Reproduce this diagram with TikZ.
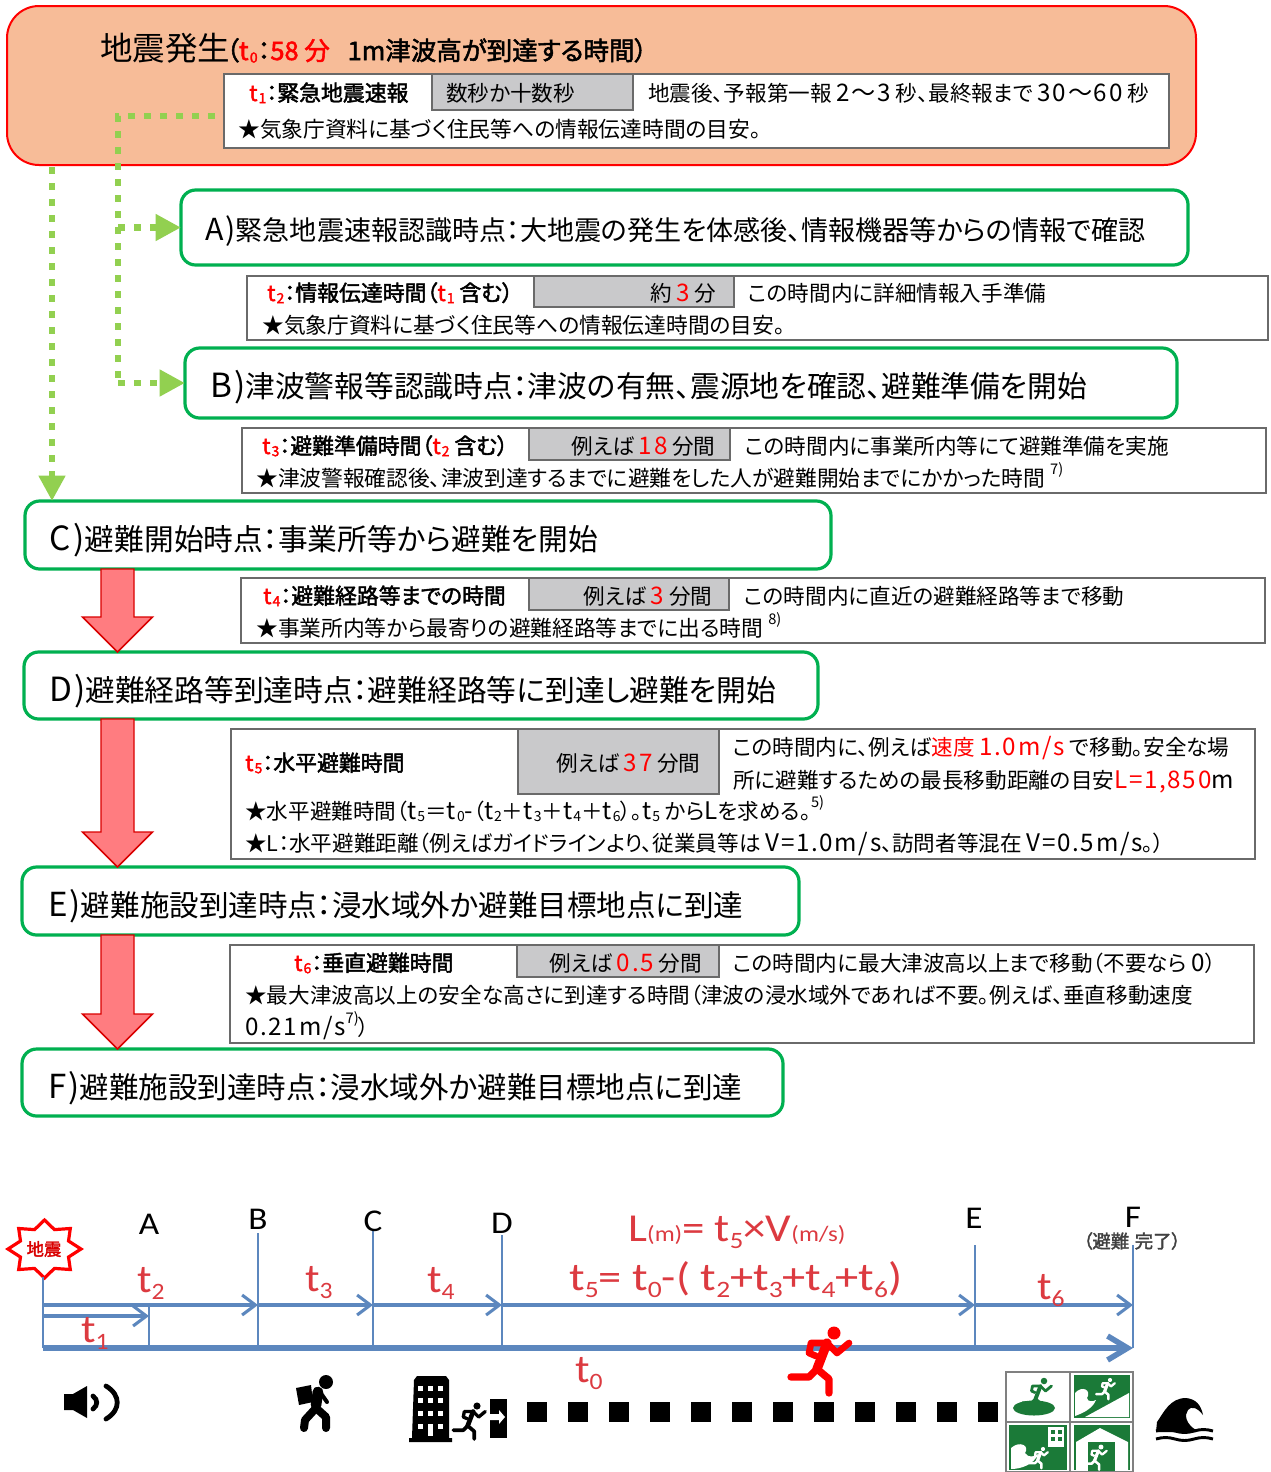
\documentclass[tikz,border=0pt]{standalone}
\usepackage{fontspec}
\setmainfont{Noto Sans CJK JP}[RawFeature=+palt]
\newfontfamily\carlito{Carlito}
\newfontfamily\latf{Noto Sans CJK JP}[Scale=1.12,LetterSpace=7]
\newfontfamily\medf{Noto Sans CJK JP}[RawFeature=+palt,FakeBold=2]
\usetikzlibrary{arrows.meta,calc}
\definecolor{topfill}{HTML}{F7BC98}
\definecolor{stagegreen}{HTML}{00B050}
\definecolor{dotgreen}{HTML}{92D050}
\definecolor{cellgray}{HTML}{C9C9CB}
\definecolor{tabline}{HTML}{6A6A6A}
\definecolor{arrowred}{HTML}{FF7C80}
\definecolor{lineblue}{HTML}{5C87BE}
\definecolor{labelred}{HTML}{DC3A40}
\definecolor{signgreen}{HTML}{1B7A38}
\newcommand\La[1]{{\latf #1}}
\newcommand\lowsub[1]{\hspace{.05em}\raisebox{-0.1em}{\fontsize{10.5}{10.5}\selectfont #1}}
\newcommand\Rt[1]{\textcolor{red}{t\lowsub{#1}}}
\newcommand\Rd[1]{\textcolor{red}{#1}}
\newcommand\Rn[1]{\textcolor{red}{\La{#1}}}
\newcommand\upnote[1]{\raisebox{.55em}{\fontsize{11}{11}\selectfont #1}}
\newcommand\Tsub[1]{t\raisebox{-0.2em}{\fontsize{16}{16}\selectfont #1}}
\newcommand\Tx[5]{\node[anchor=base west,inner sep=0pt,#4] (#1) at (#2,#3) {#5};}
\newcommand\Bx[8]{\node[anchor=north west,outer sep=0pt,#6,inner ysep=0pt,inner xsep=#7*0.75pt,
  minimum width={(#4-#2)*0.75pt},minimum height={(#5-#3)*0.75pt},
  text width={(#4-#2-2*#7)*0.75pt}] (#1) at (#2,#3) {\noindent\rlap{#8}};}
\newcommand\Bare[6]{\node[anchor=north west,outer sep=0pt,#6,inner sep=0pt,
  minimum width={(#4-#2)*0.75pt},minimum height={(#5-#3)*0.75pt}] (#1) at (#2,#3) {};}
\newcommand\RedArr[4]{\path[redarrow]
  ([shift={(-16.5,0)}]#1 |- #2.south) -- ([shift={(16.5,0)}]#1 |- #2.south)
  -- ([shift={(16.5,-#4)}]#1 |- #3.north) -- ([shift={(35,-#4)}]#1 |- #3.north)
  -- (#1 |- #3.north) -- ([shift={(-35,-#4)}]#1 |- #3.north)
  -- ([shift={(-16.5,-#4)}]#1 |- #3.north) -- cycle;}
\newcommand\lwf{1}
\tikzset{
 x=0.75pt,y=-0.75pt,
 topbox/.style={draw=red,fill=topfill,line width=1.5pt,rounded corners=24pt},
 stagebox/.style={draw=stagegreen,fill=white,line width=2.4pt,rounded corners=11pt,text height=26pt,text depth=2.2pt},
 stageA/.style={stagebox,font=\fontsize{20.3}{24}\selectfont,text height=22pt,text depth=2.6pt},
 stageB/.style={stagebox,font=\fontsize{22.3}{26}\selectfont,text height=24pt,text depth=2.5pt},
 stageC/.style={stagebox,font=\fontsize{22.3}{26}\selectfont},
 stageD/.style={stagebox,font=\fontsize{22.3}{26}\selectfont},
 stageE/.style={stagebox,font=\fontsize{22.15}{26}\selectfont},
 tabbox/.style={draw=tabline,fill=white,line width=1pt},
 graycell/.style={draw=tabline,fill=cellgray,line width=1pt},
 cell/.style={font=\fontsize{16.2}{19}\selectfont},
 cellb/.style={font=\fontsize{16.4}{19}\medf},
 starline/.style={font=\fontsize{16.3}{19}\selectfont},
 greendot/.style={draw=dotgreen,line width=5.2pt,dash pattern=on 5.2pt off 6.8pt},
 greentip/.style={-{Triangle[length=19pt,width=19pt]}},
 redarrow/.style={draw=red!85!black,fill=arrowred,line width=1.1pt,line join=miter},
 tl/.style={draw=lineblue,line width=1.6pt},
 tlarrow/.style={draw=lineblue,line width=2.3pt,-{Straight Barb[length=10pt,width=15pt,line width=2.3pt]}},
 tlthick/.style={draw=lineblue,line width=4.2pt,-{Straight Barb[length=15pt,width=18pt,line width=4.2pt]}},
 axislabel/.style={font=\carlito\fontsize{22}{26}\selectfont},
 redlabel/.style={text=labelred,font=\carlito\fontsize{27}{30}\selectfont},
 signtile/.style={draw=gray,line width=1.6pt},
 stick/.style={line width=#1,line cap=round,line join=round},
 runner/.pic={
  \fill[#1] circle (6.5);
  \draw[draw=#1,line width=5pt*\lwf,line cap=round,line join=round,fill=none] (-18,23) -- (-25,20) -- (-23,10) -- (-7,10) -- (3,20) -- (15,10);
  \draw[draw=#1,line width=7pt*\lwf,line cap=round,line join=round,fill=none] (-7,10) -- (-17,36);
  \draw[draw=#1,line width=5.5pt*\lwf,line cap=round,line join=round,fill=none] (-17,36) -- (-5,46) -- (-5,60);
  \draw[draw=#1,line width=5.5pt*\lwf,line cap=round,line join=round,fill=none] (-17,36) -- (-25,44) -- (-43,44);
 },
}
\begin{document}
\begin{tikzpicture}
\useasboundingbox (0,0) rectangle (1271,1472);
\fill[white] (0,0) rectangle (1271,1472);

% ---- top box
\Bare{top}{7}{6}{1196}{165}{topbox}
\Tx{title}{100}{60}{font=\fontsize{24.4}{28}\selectfont}{地震発生}
\Tx{titleb}{226}{60}{font=\fontsize{19.1}{22}\medf}{（\Rt{0}：\Rd{58 分}\hspace{.7em}1m津波高が到達する時間）}
\Bare{tabA}{224}{74}{1169}{148}{tabbox}
\Bare{cellA}{432}{74}{633}{110}{graycell}
\Tx{tA1}{249}{101}{cellb}{\Rt{1}：緊急地震速報}
\Tx{tA2}{446}{101}{cell}{数秒か十数秒}
\Tx{tA3}{648}{101}{cell}{地震後、予報第一報 \La{2〜3} 秒、最終報まで \La{30〜60} 秒}
\Tx{tA4}{238}{137}{starline}{★気象庁資料に基づく住民等への情報伝達時間の目安。}

% ---- stage boxes
\Bx{boxA}{181}{190}{1188}{265}{stageA}{24}{\La{A)}緊急地震速報認識時点：大地震の発生を体感後、情報機器等からの情報で確認}
\Bx{boxB}{185}{348}{1177}{418}{stageB}{25}{\La{B)}津波警報等認識時点：津波の有無、震源地を確認、避難準備を開始}
\Bx{boxC}{25}{501}{831}{569}{stageC}{25}{\La{C)}避難開始時点：事業所等から避難を開始}
\Bx{boxD}{24}{652}{818}{719}{stageD}{25}{\La{D)}避難経路等到達時点：避難経路等に到達し避難を開始}
\Bx{boxE}{22}{867}{799}{935}{stageE}{26}{\La{E)}避難施設到達時点：浸水域外か避難目標地点に到達}
\Bx{boxF}{22}{1049}{783}{1116}{stageE}{26}{\La{F)}避難施設到達時点：浸水域外か避難目標地点に到達}

% ---- t2 table
\Bare{tabB}{247}{276}{1268}{340}{tabbox}
\Bare{cellB}{534}{276}{734}{307}{graycell}
\Tx{tB1}{267}{301}{cellb}{\Rt{2}：情報伝達時間（\Rt{1} 含む）}
\Tx{tB2}{650}{301}{cell}{約 \Rn{3} 分}
\Tx{tB3}{748}{301}{cell}{この時間内に詳細情報入手準備}
\Tx{tB4}{262}{333}{starline}{★気象庁資料に基づく住民等への情報伝達時間の目安。}
% ---- t3 table
\Bare{tabC}{242}{428}{1266}{493}{tabbox}
\Bare{cellC}{529}{428}{730}{460}{graycell}
\Tx{tC1}{262}{454}{cellb}{\Rt{3}：避難準備時間（\Rt{2} 含む）}
\Tx{tC2}{571}{454}{cell}{例えば \Rn{18} 分間}
\Tx{tC3}{745}{454}{cell}{この時間内に事業所内等にて避難準備を実施}
\Tx{tC4}{256}{486}{starline}{★津波警報確認後、津波到達するまでに避難をした人が避難開始までにかかった時間 \upnote{7)}}
% ---- t4 table
\Bare{tabD}{241}{578}{1265}{643}{tabbox}
\Bare{cellD}{529}{578}{729}{610}{graycell}
\Tx{tD1}{263}{604}{cellb}{\Rt{4}：避難経路等までの時間}
\Tx{tD2}{583}{604}{cell}{例えば \Rn{3} 分間}
\Tx{tD3}{744}{604}{cell}{この時間内に直近の避難経路等まで移動}
\Tx{tD4}{256}{636}{starline}{★事業所内等から最寄りの避難経路等までに出る時間 \upnote{8)}}
% ---- t5 table
\Bare{tabE}{231}{729}{1255}{859}{tabbox}
\Bare{cellE}{518}{729}{719}{794}{graycell}
\Tx{tE1}{245}{771}{cellb}{\Rt{5}：水平避難時間}
\Tx{tE2}{556}{771}{cell}{例えば \Rn{37} 分間}
\Tx{tE3}{733}{755}{cell}{この時間内に、例えば\Rd{速度 \La{1.0m/s}} で移動。安全な場}
\Tx{tE4}{733}{788}{cell}{所に避難するための最長移動距離の目安\Rn{L=1,850}\La{m}}
\Tx{tE5}{245}{819}{cell}{★水平避難時間（\La{t}\lowsub{5}＝\La{t}\lowsub{0}\La{-}（\La{t}\lowsub{2}＋\La{t}\lowsub{3}＋\La{t}\lowsub{4}＋\La{t}\lowsub{6}）。\La{t}\lowsub{5} から\La{L}を求める。\upnote{5)}}
\Tx{tE6}{245}{851}{cell}{★L：水平避難距離（例えばガイドラインより、従業員等は \La{V=1.0m/s}、訪問者等混在 \La{V=0.5m/s}。）}
% ---- t6 table
\Bare{tabF}{230}{945}{1254}{1043}{tabbox}
\Bare{cellF}{517}{945}{719}{977}{graycell}
\Tx{tF1}{294}{971}{cellb}{\Rt{6}：垂直避難時間}
\Tx{tF2}{549}{971}{cell}{例えば \Rn{0.5} 分間}
\Tx{tF3}{733}{971}{cell}{この時間内に最大津波高以上まで移動（不要なら \La{0}）}
\Tx{tF4}{245}{1003}{cell}{★最大津波高以上の安全な高さに到達する時間（津波の浸水域外であれば不要。例えば、垂直移動速度}
\Tx{tF5}{245}{1035}{cell}{\La{0.21m/s}\upnote{7)}）}

% ---- dotted connectors
\coordinate (gs) at (215,116);
\coordinate (gc) at (118,116);
\coordinate (gl) at (52,167);
\draw[greendot] (gs) -- (gc) -- (gc |- boxB.west);
\draw[greendot,greentip] (gc |- boxB.west) -- (boxB.west);
\draw[greendot,greentip] (gc |- boxA.west) -- (boxA.west);
\draw[greendot,greentip] (gl) -- (gl |- boxC.north);

% ---- red arrows
\coordinate (ra) at (117.5,600);
\RedArr{ra}{boxC}{boxD}{35}
\RedArr{ra}{boxD}{boxE}{35}
\RedArr{ra}{boxE}{boxF}{35}

% ---- timeline
\draw[draw=red,line width=2.4pt,fill=white,line join=miter]
  plot[samples at={0,...,15}] ({44.5+(mod(\x,2)==0 ? 36.5 : 26)*cos(\x*22.5)},{1249+(mod(\x,2)==0 ? 29 : 21)*sin(\x*22.5)}) -- cycle;
\node[text=red!85!black,inner sep=0pt,font=\fontsize{13}{15}\medf,minimum height=42pt] (quake) at (44,1249) {地震};
\coordinate (o) at (43,1348);
\coordinate (pA) at (149,1348);
\coordinate (pB) at (258,1348);
\coordinate (pC) at (373,1348);
\coordinate (pD) at (502,1348);
\coordinate (pE) at (975,1348);
\coordinate (pF) at (1133,1348);
\coordinate (uB) at (258,1233);
\coordinate (uC) at (373,1230);
\coordinate (uD) at (502,1235);
\coordinate (uE) at (975,1245);
\coordinate (uF) at (1133,1245);
\coordinate (o1) at (43,1305);
\coordinate (o2) at (43,1316);
\draw[tl] (quake.south -| o) -- (o);
\draw[tl] (149,1305) -- (pA);
\draw[tl] (uB) -- (pB);
\draw[tl] (uC) -- (pC);
\draw[tl] (uD) -- (pD);
\draw[tl] (uE) -- (pE);
\draw[tl] (uF) -- (pF);
\draw[tlarrow] (o2) -- (o2 -| pA);
\draw[tlarrow] (o1) -- (o1 -| pB);
\draw[tlarrow] (o1 -| pB) -- (o1 -| pC);
\draw[tlarrow] (o1 -| pC) -- (o1 -| pD);
\draw[tlarrow] (o1 -| pD) -- (o1 -| pE);
\draw[tlarrow] (o1 -| pE) -- (o1 -| pF);
\draw[tlthick] (o) -- (pF);

\node[axislabel] (lA) at (149,1224) {\scalebox{1.2}[1.08]{A}};
\node[axislabel] (lB) at (258,1219) {\scalebox{1.2}[1.08]{B}};
\node[axislabel] (lC) at (373,1221) {\scalebox{1.2}[1.08]{C}};
\node[axislabel] (lD) at (502,1223) {\scalebox{1.2}[1.08]{D}};
\node[axislabel] (lE) at (974,1218) {\scalebox{1.2}[1.08]{E}};
\node[axislabel] (lF) at (1133,1217) {\scalebox{1.2}[1.08]{F}};
\node[font=\fontsize{13.8}{16}\medf,text=black!75] (lDone) at (1132,1241) {（避難\hspace{.3em}完了）};

\Tx{v2}{137}{1292}{redlabel}{\scalebox{1.2}[1.1]{\Tsub{2}}}
\Tx{v3}{305}{1291}{redlabel}{\scalebox{1.2}[1.1]{\Tsub{3}}}
\Tx{v4}{427}{1292}{redlabel}{\scalebox{1.2}[1.1]{\Tsub{4}}}
\Tx{v1}{81}{1342}{redlabel}{\scalebox{1.2}[1.1]{\Tsub{1}}}
\Tx{v6}{1037}{1299}{redlabel}{\scalebox{1.2}[1.1]{\Tsub{6}}}
\Tx{v0}{575}{1382}{redlabel}{\scalebox{1.2}[1.1]{\Tsub{0}}}
\Tx{vEq}{569}{1290}{redlabel}{\scalebox{1.29}[1.1]{\Tsub{5}= \Tsub{0}-( \Tsub{2}+\Tsub{3}+\Tsub{4}+\Tsub{6})}}
\Tx{vL}{628}{1241}{redlabel}{\scalebox{1.25}[1.1]{L{\fontsize{15}{15}\selectfont(m)}= \Tsub{5}×V{\fontsize{15}{15}\selectfont(m/s)}}}

% ---- speaker icon
\fill (64,1394) -- (73,1394) -- (87,1386) -- (87,1418) -- (73,1410) -- (64,1410) -- cycle;
\draw[line width=3.6pt,line cap=round] (93,1396) .. controls (98,1400) and (98,1405) .. (93,1409);
\draw[line width=3.6pt,line cap=round] (106,1386) .. controls (121,1395) and (121,1410) .. (106,1419);

% ---- hiker icon
\fill (326,1382) circle (7);
\fill (296,1388) -- (311,1385) -- (313,1402) -- (299,1405) -- cycle;
\draw[stick=6pt] (317,1391) -- (316,1408) -- (305,1420) -- (304,1428);
\draw[stick=6pt] (316,1408) -- (326,1417) -- (326,1428);
\draw[stick=3pt] (320,1392) -- (327,1402);
\draw[stick=8pt] (318,1392) -- (316,1405);

% ---- building and exit icon
\fill (414,1380) -- (417,1376) -- (446,1376) -- (449,1380) -- (449,1438) -- (452,1438) -- (452,1442) -- (409,1442) -- (409,1438) -- (412,1438) -- cycle;
\foreach \wx in {418,428,438}{\foreach \wy in {1386,1398,1411}{\fill[white] (\wx,\wy) rectangle +(5,5);}}
\foreach \wx in {418,438}{\fill[white] (\wx,1424) rectangle +(5,5);}
\fill[white] (428,1424) rectangle +(5,12);
\renewcommand\lwf{.5}
\pic[scale=.55] at (477,1406) {runner=black};
\fill (490,1399) rectangle (507,1438);
\fill[white] (490,1414) -- (499,1414) -- (499,1410) -- (505,1417) -- (499,1424) -- (499,1420) -- (490,1420) -- cycle;

% ---- dotted run of squares
\foreach \sx in {527,568,609,650,691,732,773,814,855,896,937,978}{\fill (\sx,1402) rectangle +(20,20);}

% ---- red runner
\renewcommand\lwf{1}
\pic at (834,1333) {runner=red};

% ---- signs
\fill[white] (1006,1372) rectangle (1133,1472);
% tile 1
\fill[signgreen] (1034,1408) ellipse (21 and 7.5);
\renewcommand\lwf{.42}
\pic[scale=.5] at (1044,1381) {runner=signgreen};
% tile 2
\renewcommand\lwf{.34}
\fill[signgreen] (1074,1375) rectangle (1130,1418);
\fill[white] (1085,1417) -- (1129,1393) -- (1129,1417) -- cycle;
\fill[white] (1075,1393) .. controls (1082,1385) and (1092,1390) .. (1087,1398) .. controls (1088,1402) and (1092,1402) .. (1096,1400) .. controls (1092,1410) and (1080,1414) .. (1075,1416) -- cycle;
\pic[scale=.32] at (1110,1380) {runner=white};
% tile 3
\fill[signgreen] (1009,1425) rectangle (1067,1470);
\fill[white] (1011,1448) .. controls (1020,1440) and (1030,1446) .. (1025,1453) .. controls (1028,1458) and (1034,1457) .. (1038,1454) .. controls (1034,1465) and (1020,1469) .. (1011,1469) -- cycle;
\fill[white] (1048,1427) rectangle (1064,1447);
\foreach \wx in {1051,1058}{\foreach \wy in {1430,1437}{\fill[signgreen] (\wx,\wy) rectangle +(4,4);}}
\pic[scale=.32] at (1043,1449) {runner=white};
% tile 4
\fill[signgreen] (1074,1425) rectangle (1130,1470);
\fill[white] (1076,1472) -- (1076,1442) -- (1100,1428) -- (1128,1442) -- (1128,1472) -- cycle;
\fill[signgreen] (1088,1442) rectangle (1115,1472);
\pic[scale=.38] at (1101,1447) {runner=white};
\draw[signtile] (1006,1372) rectangle (1133,1472);
\draw[signtile] (1070,1372) -- (1070,1472);
\draw[signtile] (1006,1422) -- (1133,1422);

% ---- wave
\fill (1156,1432) -- (1157,1422) .. controls (1164,1412) and (1170,1398) .. (1186,1398) .. controls (1196,1399) and (1201,1405) .. (1203,1415)
  .. controls (1197,1407) and (1191,1406) .. (1188,1410) .. controls (1184,1415) and (1186,1424) .. (1196,1430) -- (1196,1432) -- cycle;
\draw[line width=2.2pt] (1156,1431) .. controls (1163,1429) and (1168,1429) .. (1175,1431) .. controls (1182,1433) and (1187,1433) .. (1194,1431) .. controls (1201,1429) and (1206,1429) .. (1213,1431);
\draw[line width=2.2pt] (1156,1439) .. controls (1163,1437) and (1168,1437) .. (1175,1439) .. controls (1182,1441) and (1187,1441) .. (1194,1439) .. controls (1201,1437) and (1206,1437) .. (1213,1439);
\end{tikzpicture}
\end{document}
